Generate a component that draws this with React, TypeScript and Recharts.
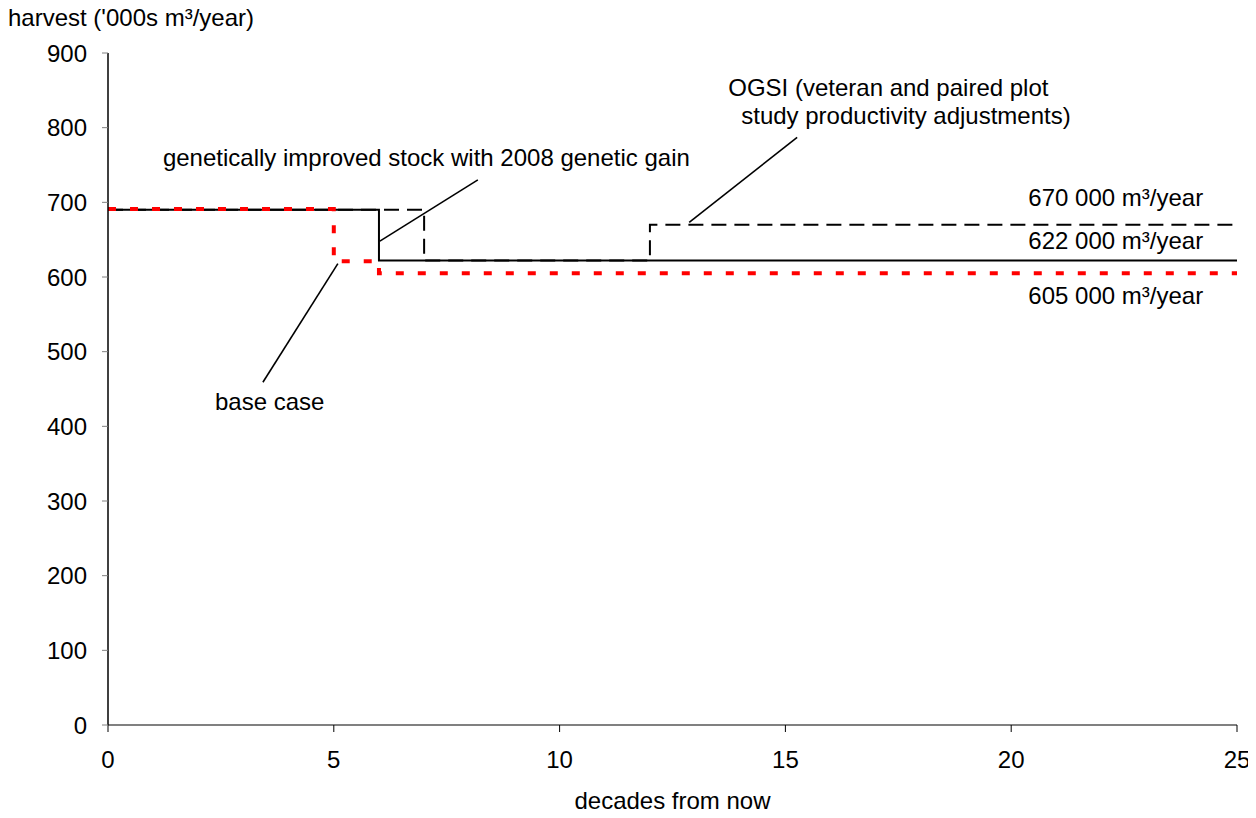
import React from "react";
import {
  LineChart,
  Line,
  XAxis,
  YAxis,
  ReferenceLine,
  ReferenceDot,
} from "recharts";

// Series (decades from now, harvest '000s m³/year)
const baseCase = [
  { x: 0, y: 691 },
  { x: 5, y: 691 },
  { x: 5, y: 621 },
  { x: 6, y: 621 },
  { x: 6, y: 605 },
  { x: 25, y: 605 },
];
const geneticGain = [
  { x: 0, y: 690 },
  { x: 6, y: 690 },
  { x: 6, y: 622 },
  { x: 25, y: 622 },
];
const ogsi = [
  { x: 0, y: 690 },
  { x: 7, y: 690 },
  { x: 7, y: 622 },
  { x: 12, y: 622 },
  { x: 12, y: 670 },
  { x: 25, y: 670 },
];

const xTicks = [0, 5, 10, 15, 20, 25];
const yTicks = [0, 100, 200, 300, 400, 500, 600, 700, 800, 900];

const yAxisTitle = "harvest ('000s m³/year)";
const xAxisTitle = "decades from now";

// Leader lines for annotations (data coordinates)
const leaders = [
  { from: { x: 6.02, y: 648 }, to: { x: 8.19, y: 730 } },
  { from: { x: 5.09, y: 618 }, to: { x: 3.43, y: 459 } },
  { from: { x: 12.87, y: 673 }, to: { x: 15.26, y: 787 } },
];

// Annotation texts (data coordinates of the text baseline)
const notes = [
  { x: 7.05, y: 749, text: "genetically improved stock with 2008 genetic gain", anchor: "middle" },
  { x: 3.58, y: 422, text: "base case", anchor: "middle" },
  { x: 17.28, y: 843, text: "OGSI (veteran and paired plot", anchor: "middle" },
  { x: 17.67, y: 805, text: "study productivity adjustments)", anchor: "middle" },
  { x: 24.25, y: 695, text: "670 000 m³/year", anchor: "end" },
  { x: 24.25, y: 637, text: "622 000 m³/year", anchor: "end" },
  { x: 24.25, y: 564, text: "605 000 m³/year", anchor: "end" },
];

const FONT = "Arial, 'Liberation Sans', Helvetica, sans-serif";
const FS = 24;

export default function App() {
  return (
    <div style={{ width: 1256, height: 818, margin: -8, fontFamily: FONT }}>
      <LineChart
        width={1256}
        height={818}
        margin={{ top: 53, right: 19, left: 0, bottom: 0 }}
      >
        <XAxis
          type="number"
          dataKey="x"
          domain={[0, 25]}
          ticks={xTicks}
          allowDataOverflow
          height={93}
          tickSize={7}
          tickMargin={19}
          axisLine={{ stroke: "#808080", strokeWidth: 2 }}
          tickLine={{ stroke: "#000", strokeWidth: 1 }}
          tick={{ fill: "#000", fontSize: FS, fontFamily: FONT }}
          label={{
            content: (props: any) => {
              const vb = props.viewBox || {};
              return (
                <text
                  x={vb.x + vb.width / 2}
                  y={vb.y + 84}
                  textAnchor="middle"
                  fill="#000"
                  fontSize={FS}
                  fontFamily={FONT}
                >
                  {xAxisTitle}
                </text>
              );
            },
          }}
        />
        <YAxis
          type="number"
          dataKey="y"
          domain={[0, 900]}
          ticks={yTicks}
          width={108}
          tickSize={6}
          tickMargin={15}
          axisLine={{ stroke: "#000", strokeWidth: 1.5 }}
          tickLine={{ stroke: "#808080", strokeWidth: 1 }}
          tick={{ fill: "#000", fontSize: FS, fontFamily: FONT }}
          label={{
            content: (props: any) => {
              const vb = props.viewBox || {};
              return (
                <text
                  x={vb.x + 8}
                  y={vb.y - 27}
                  textAnchor="start"
                  fill="#000"
                  fontSize={FS}
                  fontFamily={FONT}
                >
                  {yAxisTitle}
                </text>
              );
            },
          }}
        />
        <Line
          data={geneticGain}
          dataKey="y"
          type="linear"
          stroke="#000"
          strokeWidth={2}
          dot={false}
          activeDot={false}
          isAnimationActive={false}
        />
        <Line
          data={ogsi}
          dataKey="y"
          type="linear"
          stroke="#000"
          strokeWidth={2}
          strokeDasharray="15 8"
          dot={false}
          activeDot={false}
          isAnimationActive={false}
        />
        <Line
          data={baseCase}
          dataKey="y"
          type="linear"
          stroke="#ff0000"
          strokeWidth={4}
          strokeDasharray="8 14"
          dot={false}
          activeDot={false}
          isAnimationActive={false}
        />
        {leaders.map((l, i) => (
          <ReferenceLine
            key={"l" + i}
            segment={[l.from, l.to]}
            stroke="#000"
            strokeWidth={1.6}
            ifOverflow="visible"
          />
        ))}
        {notes.map((n, i) => (
          <ReferenceDot
            key={"n" + i}
            x={n.x}
            y={n.y}
            r={1}
            fill="none"
            stroke="none"
            ifOverflow="visible"
            label={{
              content: (props: any) => {
                const vb = props.viewBox || {};
                return (
                  <text
                    x={vb.x + (vb.width || 0) / 2}
                    y={vb.y + (vb.height || 0) / 2}
                    textAnchor={n.anchor as any}
                    fill="#000"
                    fontSize={FS}
                    fontFamily={FONT}
                  >
                    {n.text}
                  </text>
                );
              },
            }}
          />
        ))}
      </LineChart>
    </div>
  );
}
